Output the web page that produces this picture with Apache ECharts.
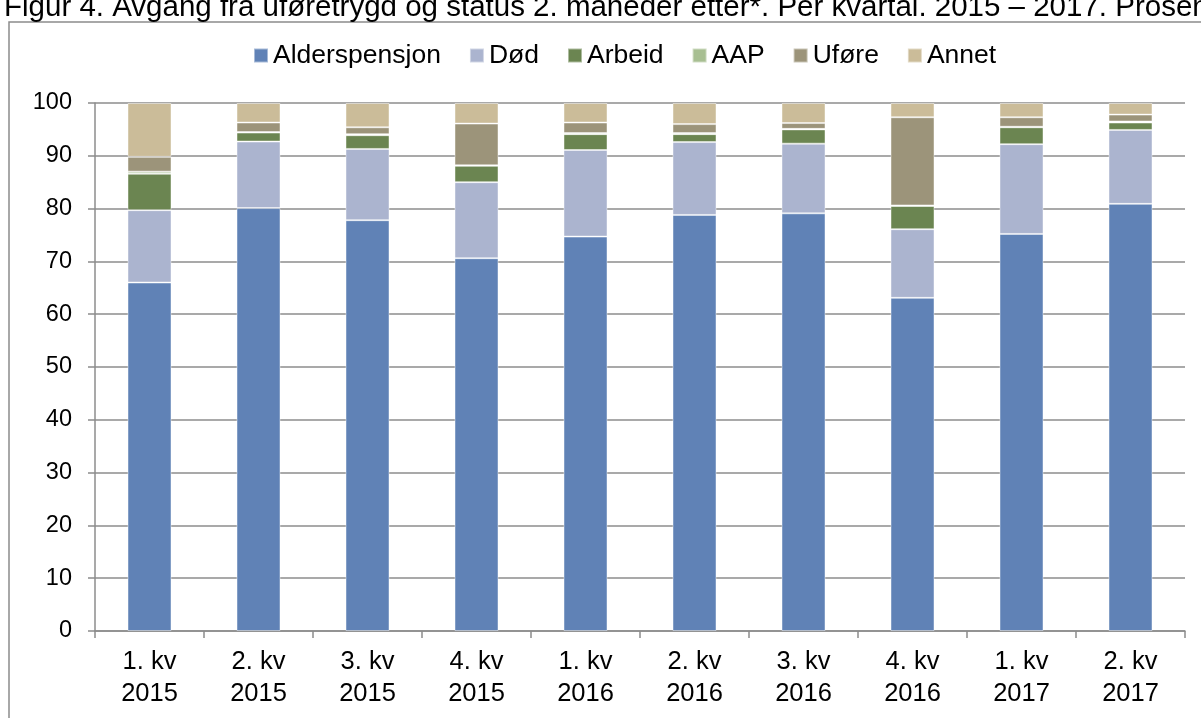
<!DOCTYPE html>
<html>
<head>
<meta charset="utf-8">
<script src="https://cdn.jsdelivr.net/npm/echarts@6/dist/echarts.min.js"></script>
<style>
  html, body { margin: 0; padding: 0; background: #fff; }
  #main { width: 1201px; height: 718px; }
</style>
</head>
<body>
<div id="main"></div>
<script>
var categories = ['1. kv\n2015', '2. kv\n2015', '3. kv\n2015', '4. kv\n2015', '1. kv\n2016',
                  '2. kv\n2016', '3. kv\n2016', '4. kv\n2016', '1. kv\n2017', '2. kv\n2017'];
var alderspensjon = [66.0, 80.1, 77.8, 70.6, 74.7, 78.8, 79.1, 63.1, 75.2, 80.9];
var dod           = [13.7, 12.6, 13.5, 14.4, 16.4, 13.8, 13.2, 13.0, 17.0, 14.0];
var arbeid        = [6.9, 1.7, 2.6, 3.1, 3.0, 1.5, 2.7, 4.4, 3.2, 1.4];
var aap           = [0.4, 0.1, 0.2, 0.1, 0.2, 0.2, 0.1, 0.1, 0.1, 0.2];
var ufore         = [2.8, 1.8, 1.3, 7.9, 2.0, 1.7, 1.1, 16.7, 1.8, 1.3];
var annet         = [10.2, 3.7, 4.6, 3.9, 3.7, 4.0, 3.8, 2.7, 2.7, 2.2];
var yTicks = [0, 10, 20, 30, 40, 50, 60, 70, 80, 90, 100];

var myChart = echarts.init(document.getElementById('main'));

function bar(name, data, color){
    return {
        name: name,
        type: 'bar',
        stack: 'total',
        barWidth: 44,
        data: data,
        itemStyle: { color: color, borderColor: 'rgba(255,255,255,0.45)', borderWidth: 1 }
    };
}

var option = {
    animation: false,
    textStyle: { fontFamily: 'Liberation Sans, Arial, sans-serif' },
    title: {
        text: 'Figur 4. Avgang fra uføretrygd og status 2. måneder etter*. Per kvartal. 2015 – 2017. Prosent',
        left: 4,
        top: -7,
        padding: 0,
        textStyle: { fontSize: 29.5, fontWeight: 'normal', color: '#000' }
    },
    graphic: [{
        type: 'rect',
        shape: { x: 9, y: 22, width: 1300, height: 800 },
        style: { fill: 'none', stroke: '#8c8c8c', lineWidth: 1.5 },
        silent: true
    }],
    legend: {
        top: 37,
        left: 248,
        itemWidth: 14,
        itemHeight: 14,
        itemGap: 28,
        icon: 'rect',
        textStyle: { fontSize: 26.5, color: '#000' },
        data: ['Alderspensjon', 'Død', 'Arbeid', 'AAP', 'Uføre', 'Annet']
    },
    grid: { left: 95, right: 16, top: 103, bottom: 87 },
    xAxis: {
        type: 'category',
        data: categories,
        axisLine: { lineStyle: { color: '#8c8c8c', width: 1.5 } },
        axisTick: { show: true, length: 7, lineStyle: { color: '#8c8c8c', width: 1.5 } },
        axisLabel: { fontSize: 25.5, color: '#000', lineHeight: 32, margin: 15 }
    },
    yAxis: {
        type: 'value',
        min: yTicks[0],
        max: yTicks[yTicks.length - 1],
        interval: 10,
        axisLine: { show: true, lineStyle: { color: '#8c8c8c', width: 1.5 } },
        axisTick: { show: true, length: 7, lineStyle: { color: '#8c8c8c', width: 1.5 } },
        axisLabel: { fontSize: 23.5, color: '#000', margin: 23 },
        splitLine: { lineStyle: { color: '#8c8c8c', width: 1.5 } }
    },
    series: [
        bar('Alderspensjon', alderspensjon, '#6082b6'),
        bar('Død', dod, '#abb4cf'),
        bar('Arbeid', arbeid, '#6b8551'),
        bar('AAP', aap, '#a8bf92'),
        bar('Uføre', ufore, '#9c947a'),
        bar('Annet', annet, '#cbbc99')
    ]
};
myChart.setOption(option);
</script>
</body>
</html>
